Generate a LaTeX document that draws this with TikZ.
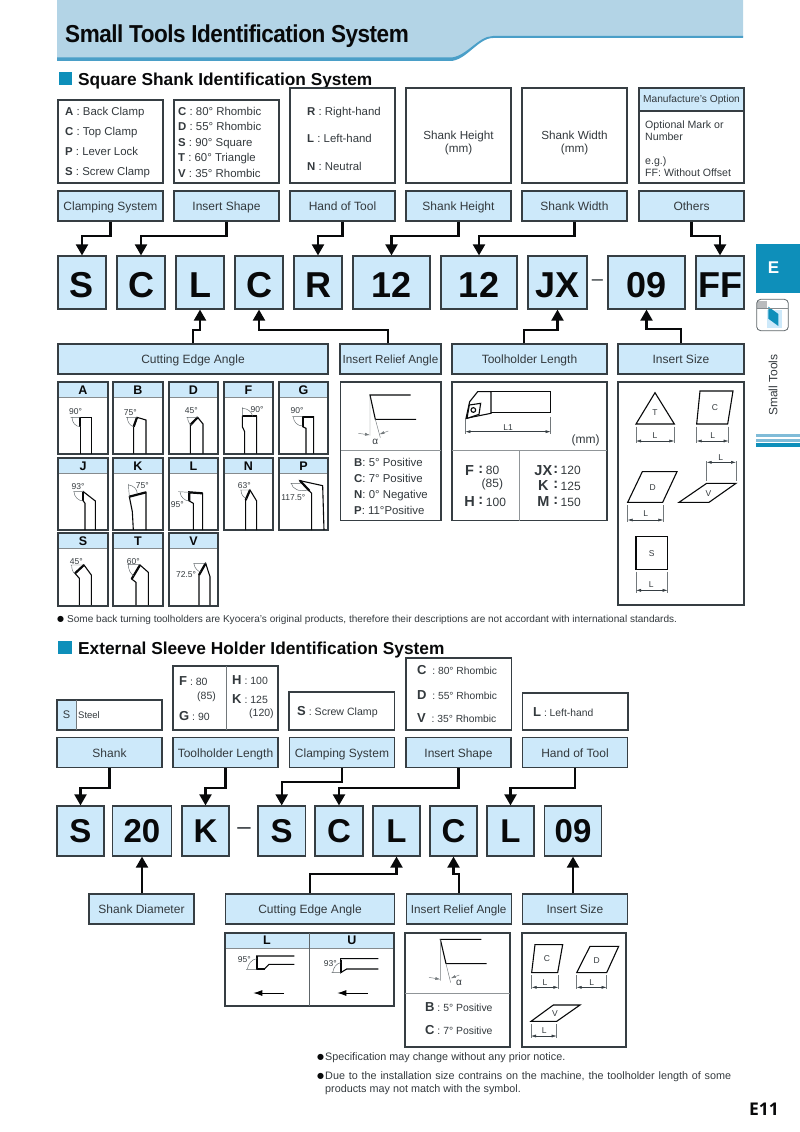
\documentclass[tikz,border=0pt]{standalone}
\usepackage{fontspec}
\setmainfont{Liberation Sans}
\newfontfamily\symfont{DejaVu Sans}
\newfontfamily\pagefont{Open Sans}
\newfontfamily\narrowfont[FakeStretch=0.92,LetterSpace=-2]{Liberation Sans}
\usetikzlibrary{arrows.meta}
\definecolor{headfill}{HTML}{B3D4E6}
\definecolor{headline}{HTML}{4A9FC8}
\definecolor{boxfill}{HTML}{CDE9FA}
\definecolor{tabblue}{HTML}{0E8FBA}
\definecolor{ink}{HTML}{363E43}
\definecolor{txt}{HTML}{33393D}
\newcommand{\fs}[1]{\fontsize{#1}{#1}\selectfont}
\tikzset{
  labelbox/.style={draw=ink, fill=boxfill, line width=1.2pt, inner sep=0, minimum height=30pt, text height=9pt, text depth=0pt, text=txt, font=\fs{12}},
  codebox/.style={draw=ink, fill=boxfill, line width=1.2pt, inner sep=0, minimum height=53pt, text height=29.6pt, text depth=0pt, text=black!85!ink, font=\bfseries\fs{36}},
  codeboxb/.style={draw=ink, fill=boxfill, line width=1.2pt, inner sep=0, minimum height=50pt, text height=23pt, text depth=0pt, text=black!85!ink, font=\bfseries\fs{33}},
  cellhead/.style={fill=boxfill, draw=ink!60, line width=.4pt, inner sep=0, minimum height=15pt, text height=9pt, text depth=0pt, text=black!85!ink, font=\bfseries\fs{12.5}},
  frame/.style={draw=ink, line width=1.2pt},
  val/.style={inner sep=0, anchor=base west, text=txt, font=\fs{11.4}},
  small/.style={inner sep=0, text=txt, font=\fs{8.5}},
  link/.style={draw=black!85!ink, line width=2.1pt, -{Triangle[width=12pt,length=11pt]}},
  tool/.style={draw=black!85!ink, line width=1.1pt},
  edge/.style={draw=black!85!ink, line width=2.2pt},
  ang/.style={draw=ink!80, line width=.45pt},
  dim/.style={draw=ink!70, line width=.45pt},
  dimarrow/.style={draw=ink, line width=.5pt, {Latex[length=5pt,width=3pt]}-{Latex[length=5pt,width=3pt]}},
  divider/.style={draw=ink!55, line width=.8pt}
}
\begin{document}
\begin{tikzpicture}[x=1pt,y=-1pt]
\useasboundingbox (0,0) rectangle (800,1132);
% page header
\fill[headfill] (57,0) -- (743,0) -- (743,37) -- (493,37) .. controls (478,37) and (466,59) .. (450,59) -- (57,59) -- cycle;
\fill[headline] (57,57.5) -- (450,57.5) .. controls (466,57.5) and (478,36) .. (493,36) -- (743,36) -- (743,38) -- (493,38) .. controls (478,38) and (466,61) .. (450,61) -- (57,61) -- cycle;
\node[inner sep=0, anchor=base west, text=black!85!ink, font=\narrowfont\bfseries\fs{24.5}] (title) at (65,43) {Small Tools Identification System};
\fill[tabblue] (59,72) rectangle (72,85);
\node[inner sep=0, anchor=base west, text=black!85!ink, font=\bfseries\fs{17.3}] (secA) at (78,85) {Square Shank Identification System};
% side tab
\fill[tabblue] (756,244) rectangle (800,293);
\node[inner sep=0, text=white, font=\bfseries\fs{17}] (tabE) at (773.5,268) {E};
\begin{scope}[shift={(750,240)},scale=1/3]
\fill[boxfill] (50,210) rectangle (95,265);
\fill[ink!35] (22,183) rectangle (52,205);
\fill[tabblue] (55,200) -- (85,222) -- (85,258) -- (55,236) -- cycle;
\draw[ink!80, line width=.8pt, rounded corners=4pt] (20,178) rectangle (115,272);
\draw[ink!60, line width=.5pt] (20,205) -- (115,205);
\end{scope}
\node[inner sep=0, rotate=90, text=txt, font=\fs{12}] (sideTxt) at (773,385) {Small Tools};
\fill[headline!70] (756,434) rectangle (800,437);
\fill[headline!70] (756,438.5) rectangle (800,441.5);
\fill[tabblue] (756,442.5) rectangle (800,446.5);
% top boxes
\draw[frame] (58,100) rectangle (163,183);
\node[val] (a1) at (65,115) {\textbf{A} : Back Clamp};
\node[val] (a2) at (65,135.5) {\textbf{C} : Top Clamp};
\node[val] (a3) at (65,155.5) {\textbf{P} : Lever Lock};
\node[val] (a4) at (65,175.5) {\textbf{S} : Screw Clamp};
\draw[frame] (174,100) rectangle (279,183);
\node[val] (b1) at (178,115) {\textbf{C} : 80° Rhombic};
\node[val] (b2) at (178,130.5) {\textbf{D} : 55° Rhombic};
\node[val] (b3) at (178,146) {\textbf{S} : 90° Square};
\node[val] (b4) at (178,161.5) {\textbf{T} : 60° Triangle};
\node[val] (b5) at (178,177) {\textbf{V} : 35° Rhombic};
\draw[frame] (290,88) rectangle (395,183);
\node[val] (c1) at (307,115) {\textbf{R} : Right-hand};
\node[val] (c2) at (307,142) {\textbf{L} : Left-hand};
\node[val] (c3) at (307,170) {\textbf{N} : Neutral};
\draw[frame] (406,88) rectangle (511,183);
\node[inner sep=0, text=txt, font=\fs{11.7}, align=center] (d1) at (458.5,143) {Shank Height\\[2pt](mm)};
\draw[frame] (522,88) rectangle (627,183);
\node[inner sep=0, text=txt, font=\fs{11.7}, align=center] (e1) at (574.5,143) {Shank Width\\[2pt](mm)};
\node[draw=ink, fill=boxfill, line width=1.2pt, inner sep=0, minimum width=105pt, minimum height=23pt, text=txt, font=\fs{10.2}] (opt) at (691.5,99.5) {Manufacture's Option};
\draw[frame] (639,88) rectangle (744,183);
\node[val, font=\fs{10.6}] (f1) at (645,128) {Optional Mark or};
\node[val, font=\fs{10.6}] (f2) at (645,140.5) {Number};
\node[val, font=\fs{10.6}] (f3) at (645,164) {e.g.)};
\node[val, font=\fs{10.6}] (f4) at (645,176.5) {FF: Without Offset};
% label row
\node[labelbox, minimum width=105pt] (clamp) at (110.5,206) {Clamping System};
\node[labelbox, minimum width=105pt] (shape) at (226.5,206) {Insert Shape};
\node[labelbox, minimum width=105pt] (hand) at (342.5,206) {Hand of Tool};
\node[labelbox, minimum width=105pt] (height) at (458.5,206) {Shank Height};
\node[labelbox, minimum width=105pt] (width) at (574.5,206) {Shank Width};
\node[labelbox, minimum width=105pt] (others) at (691.5,206) {Others};
% code row
\node[codebox, minimum width=48pt] (cS) at (82,282.5) {S};
\node[codebox, minimum width=48pt] (cC) at (141,282.5) {C};
\node[codebox, minimum width=48pt] (cL) at (200,282.5) {L};
\node[codebox, minimum width=48pt] (cCb) at (259,282.5) {C};
\node[codebox, minimum width=48pt] (cR) at (318,282.5) {R};
\node[codebox, minimum width=77pt] (cH) at (391.5,282.5) {12};
\node[codebox, minimum width=76pt] (cW) at (479,282.5) {12};
\node[codebox, minimum width=59pt] (cJ) at (557.5,282.5) {JX};
\node[inner sep=0, text=txt, font=\fs{20}] (cDash) at (597.5,283) {–};
\node[codebox, minimum width=77pt] (cSize) at (646.5,282.5) {09};
\node[codebox, minimum width=48pt] (cF) at (720,282.5) {FF};
\draw[link] (clamp.south) -- ++(0,14) -| (cS.north);
\draw[link] (shape.south) -- ++(0,14) -| (cC.north);
\draw[link] (hand.south) -- ++(0,14) -| (cR.north);
\draw[link] (height.south) -- ++(0,14) -| (cH.north);
\draw[link] (width.south) -- ++(0,14) -| (cW.north);
\draw[link] (others.south) -- ++(0,14) -| (cF.north);
% lower label row
\node[labelbox, minimum width=270pt] (cut) at (193,359) {Cutting Edge Angle};
\node[labelbox, minimum width=101pt, font=\fs{11.7}] (relief) at (390.5,359) {Insert Relief Angle};
\node[labelbox, minimum width=155pt] (length) at (529.5,359) {Toolholder Length};
\node[labelbox, minimum width=126pt] (size) at (681,359) {Insert Size};
\draw[link] (cut.north) -- ++(0,-13.5) -| (cL.south);
\draw[link] ([xshift=-2.5pt]relief.north) -- ++(0,-13.5) -| (cCb.south);
\draw[link] ([xshift=-5.5pt]length.north) -- ++(0,-13.5) -| (cJ.south);
\draw[link] (size.north) -- ++(0,-14) -| (cSize.south);
% cutting edge cells
\node[cellhead, minimum width=49.5pt] (gA) at (83,389.5) {A};
\node[cellhead, minimum width=49.5pt] (gB) at (138,389.5) {B};
\node[cellhead, minimum width=49.5pt] (gD) at (193.5,389.5) {D};
\node[cellhead, minimum width=49.5pt] (gF) at (248.5,389.5) {F};
\node[cellhead, minimum width=49.5pt] (gG) at (303.5,389.5) {G};
\node[cellhead, minimum width=49.5pt] (gJ) at (83,465.5) {J};
\node[cellhead, minimum width=49.5pt] (gK) at (138,465.5) {K};
\node[cellhead, minimum width=49.5pt] (gL) at (193.5,465.5) {L};
\node[cellhead, minimum width=49.5pt] (gN) at (248.5,465.5) {N};
\node[cellhead, minimum width=49.5pt] (gP) at (303.5,465.5) {P};
\node[cellhead, minimum width=49.5pt] (gS) at (83,540.5) {S};
\node[cellhead, minimum width=49.5pt] (gT) at (138,540.5) {T};
\node[cellhead, minimum width=49.5pt] (gV) at (193.5,540.5) {V};
\draw[frame] (58,382) rectangle (108,454);
\draw[frame] (113,382) rectangle (163,454);
\draw[frame] (169,382) rectangle (218,454);
\draw[frame] (224,382) rectangle (273,454);
\draw[frame] (279,382) rectangle (328,454);
\draw[frame] (58,458) rectangle (108,530);
\draw[frame] (113,458) rectangle (163,530);
\draw[frame] (169,458) rectangle (218,530);
\draw[frame] (224,458) rectangle (273,530);
\draw[frame] (279,458) rectangle (328,530);
\draw[frame] (58,533) rectangle (108,606);
\draw[frame] (113,533) rectangle (163,606);
\draw[frame] (169,533) rectangle (218,606);
\begin{scope}[shift={(50,375)},scale=1/3]
% row A to G
\draw[tool] (91,236) -- (91,127) -- (125,127) -- (125,236);
\draw[edge] (91,127) -- (91,155);
\draw[ang] (62,127) -- (91,127) (66,127) .. controls (66,142) and (76,155) .. (91,155);
\node[small] (dA) at (77,110) {90°};
\draw[tool] (251,236) -- (251,155) -- (261,127) -- (288,135) -- (288,236);
\draw[edge] (251,155) -- (261,127);
\draw[ang] (228,127) -- (261,127) (232,127) .. controls (232,142) and (240,152) .. (251,155);
\node[small] (dB) at (241,113) {75°};
\draw[tool] (421,236) -- (421,150) -- (443,127) -- (459,147) -- (459,236);
\draw[edge] (421,150) -- (443,127);
\draw[ang] (410,127) -- (443,127) (413,127) .. controls (413,138) and (418,148) .. (425,150);
\node[small] (dD) at (424,107) {45°};
\draw[tool] (584,236) -- (584,170) -- (577,155) -- (577,124) -- (620,124) -- (620,236);
\draw[edge] (577,124) -- (620,124);
\draw[ang] (577,124) -- (577,97) (577,100) .. controls (592,100) and (606,110) .. (608,124);
\node[small] (dF) at (621,105) {90°};
\draw[tool] (768,236) -- (768,160) -- (758,155) -- (758,125) -- (791,125) -- (791,236);
\draw[edge] (758,155) -- (758,125) -- (791,125);
\draw[ang] (727,125) -- (758,125) (730,125) .. controls (730,140) and (742,153) .. (758,153);
\node[small] (dG) at (741,108) {90°};
% row J to P
\draw[tool] (105,465) -- (105,385) -- (100,378) -- (100,350) -- (136,378) -- (136,465);
\draw[edge] (100,378) -- (100,350);
\draw[ang] (70,350) -- (100,350) (72,350) .. controls (72,365) and (85,378) .. (100,378);
\node[small] (dJ) at (84,335) {93°};
\draw[tool] (250,465) -- (247,410) -- (238,365) -- (288,352) -- (288,465);
\draw[edge] (238,365) -- (288,352);
\draw[ang] (238,365) -- (235,327) (237,330) .. controls (250,332) and (262,342) .. (262,357);
\node[small] (dK) at (277,331) {75°};
\draw[tool] (430,465) -- (430,385) -- (418,378) -- (418,352) -- (458,355) -- (458,465);
\draw[edge] (418,378) -- (418,352) -- (458,355);
\draw[ang] (385,350) -- (418,352) (390,352) .. controls (392,366) and (404,378) .. (418,378);
\node[small] (dL) at (382,388) {95°};
\draw[tool] (587,465) -- (587,375) -- (600,345) -- (620,378) -- (620,465);
\draw[edge] (587,375) -- (600,345);
\draw[ang] (570,345) -- (600,345) (573,345) .. controls (573,358) and (580,368) .. (590,370);
\node[small] (dN) at (583,331) {63°};
\draw[tool] (785,465) -- (785,355) -- (750,317) -- (818,332) -- (822,465);
\draw[edge] (750,317) -- (778,347);
\draw[ang] (722,325) -- (752,325) (724,325) .. controls (726,342) and (750,352) .. (772,345);
\node[small] (dP) at (730,369) {117.5°};
% row S to V
\draw[tool] (88,690) -- (88,610) -- (75,595) -- (102,570) -- (124,600) -- (124,690);
\draw[edge] (75,595) -- (102,570);
\draw[ang] (62,570) -- (102,570) (65,570) .. controls (65,582) and (68,592) .. (75,596);
\node[small] (dS) at (79,559) {45°};
\draw[tool] (258,690) -- (258,622) -- (245,612) -- (270,570) -- (295,592) -- (295,690);
\draw[edge] (245,612) -- (270,570);
\draw[ang] (232,568) -- (270,568) (235,568) .. controls (235,585) and (242,598) .. (252,602);
\node[small] (dT) at (250,560) {60°};
\draw[tool] (447,690) -- (447,600) -- (467,565) -- (480,605) -- (480,690);
\draw[edge] (447,600) -- (467,565);
\draw[ang] (430,565) -- (467,565) (432,567) .. controls (434,580) and (444,590) .. (452,590);
\node[small] (dV) at (408,598) {72.5°};
\end{scope}
% relief box
\draw[frame] (340.5,382) rectangle (441,520.5);
\draw[divider] (340.5,450) -- (441,450);
\begin{scope}[shift={(335,375)},scale=1/3]
\draw[tool] (227,60) -- (105,60) -- (121,133) -- (243,133);
\draw[dim] (105,60) -- (105,182) (121,133) -- (136,188);
\draw[dim, -{Latex[length=5pt,width=3pt]}] (70,175) -- (105,180);
\draw[dim, -{Latex[length=5pt,width=3pt]}] (160,168) -- (133,178);
\node[small, font=\fs{10}] (alphaA) at (121,201) {α};
\end{scope}
\node[val] (r1) at (354,466) {\textbf{B}: 5° Positive};
\node[val] (r2) at (354,482) {\textbf{C}: 7° Positive};
\node[val] (r3) at (354,498) {\textbf{N}: 0° Negative};
\node[val] (r4) at (354,514) {\textbf{P}: 11°Positive};
% toolholder box
\draw[frame] (452,382) rectangle (607,520.5);
\draw[divider] (452,450) -- (607,450) (519,450) -- (519,520.5);
\begin{scope}[shift={(335,375)},scale=1/3]
\draw[tool] (468,50) -- (647,50) -- (647,112) -- (468,112);
\draw[tool] (468,50) -- (428,50) -- (404,80) -- (393,130) -- (468,115) -- cycle;
\draw[tool, fill=white] (403,90) -- (437,85) -- (432,118) -- (396,130) -- cycle;
\draw[tool] (415,105) circle (7);
\draw[dim] (391,132) -- (391,178) (647,125) -- (647,178);
\draw[dimarrow] (391,170) -- (647,170);
\node[small, inner sep=.5pt] (dimL) at (519,157) {L1};
\node[inner sep=0, text=txt, font=\fs{12}] (mm) at (752,197) {(mm)};
\node[inner sep=0, text=txt, font=\bfseries\fs{14.5}] (lF) at (404,287) {F};
\node[inner sep=0, text=txt, font=\bfseries\fs{14.5}] (lFc) at (437,284) {:};
\node[inner sep=0, text=txt, font=\fs{12}] (lFv) at (473,287) {80};
\node[inner sep=0, text=txt, font=\fs{12}] (lFw) at (472,327) {(85)};
\node[inner sep=0, text=txt, font=\bfseries\fs{14.5}] (lH) at (404,381) {H};
\node[inner sep=0, text=txt, font=\bfseries\fs{14.5}] (lHc) at (437,378) {:};
\node[inner sep=0, text=txt, font=\fs{12}] (lHv) at (483,381) {100};
\node[inner sep=0, text=txt, font=\bfseries\fs{14.5}] (lJ) at (625,287) {JX};
\node[inner sep=0, text=txt, font=\bfseries\fs{14.5}] (lJc) at (662,284) {:};
\node[inner sep=0, text=txt, font=\fs{12}] (lJv) at (707,287) {120};
\node[inner sep=0, text=txt, font=\bfseries\fs{14.5}] (lK) at (625,333) {K};
\node[inner sep=0, text=txt, font=\bfseries\fs{14.5}] (lKc) at (662,330) {:};
\node[inner sep=0, text=txt, font=\fs{12}] (lKv) at (707,333) {125};
\node[inner sep=0, text=txt, font=\bfseries\fs{14.5}] (lM) at (625,381) {M};
\node[inner sep=0, text=txt, font=\bfseries\fs{14.5}] (lMc) at (662,378) {:};
\node[inner sep=0, text=txt, font=\fs{12}] (lMv) at (707,381) {150};
\end{scope}
% insert size box
\draw[frame] (618,382) rectangle (744,605);
\begin{scope}[shift={(610,240)},scale=1/3]
\draw[tool] (78,552) -- (135,458) -- (193,552) -- cycle;
\node[small] (iT) at (135,518) {T};
\draw[dim] (78,560) -- (78,608) (193,560) -- (193,608);
\draw[dimarrow] (78,603) -- (193,603);
\node[small] (iTL) at (135,588) {L};
\draw[tool] (260,552) -- (270,453) -- (369,453) -- (353,552) -- cycle;
\node[small] (iC) at (315,503) {C};
\draw[dim] (260,560) -- (260,608) (356,560) -- (356,608);
\draw[dimarrow] (260,603) -- (356,603);
\node[small] (iCL) at (308,588) {L};
\draw[tool] (53,787) -- (97,695) -- (201,695) -- (158,787) -- cycle;
\node[small] (iD) at (128,742) {D};
\draw[dim] (53,795) -- (53,845) (160,795) -- (160,845);
\draw[dimarrow] (53,840) -- (160,840);
\node[small] (iDL) at (107,822) {L};
\draw[tool] (207,787) -- (290,730) -- (378,730) -- (297,787) -- cycle;
\node[small] (iV) at (295,760) {V};
\draw[dim] (290,722) -- (290,662) (378,722) -- (378,662);
\draw[dimarrow] (290,667) -- (378,667);
\node[small] (iVL) at (332,652) {L};
\draw[tool] (78,889) rectangle (173,988);
\node[small] (iS) at (125,940) {S};
\draw[dim] (78,995) -- (78,1058) (173,995) -- (173,1058);
\draw[dimarrow] (78,1051) -- (173,1051);
\node[small] (iSL) at (124,1033) {L};
\end{scope}
% note
\node[inner sep=0, anchor=base west, text=black!85!ink, font=\symfont\fs{8}] (noteDot) at (57,621) {●};
\node[inner sep=0, anchor=base west, text=txt, font=\fs{10.05}] (note) at (67,622) {Some back turning toolholders are Kyocera's original products, therefore their descriptions are not accordant with international standards.};
% second system
\fill[tabblue] (58,641) rectangle (71.5,654);
\node[inner sep=0, anchor=base west, text=black!85!ink, font=\bfseries\fs{17.3}] (secB) at (78,654) {External Sleeve Holder Identification System};
\fill[boxfill] (57,700) rectangle (76,730);
\draw[frame] (57,700) rectangle (162,730);
\draw[ink!70, line width=.6pt] (76,700) -- (76,730);
\node[inner sep=0, text=txt, font=\fs{11}] (sS) at (66.5,715) {S};
\node[val, font=\fs{9.5}] (sSteel) at (78,718.5) {Steel};
\draw[frame] (173,666) rectangle (278,730);
\draw[ink!70, line width=.6pt] (226,666) -- (226,730);
\node[val, font=\fs{10.5}] (t1) at (179,685) {\textbf{\fs{13}F} : 80};
\node[val, font=\fs{10.5}] (t2) at (197,699) {(85)};
\node[val, font=\fs{10.5}] (t3) at (179,720) {\textbf{\fs{13}G} : 90};
\node[val, font=\fs{10.5}] (t4) at (232,684) {\textbf{\fs{13}H} : 100};
\node[val, font=\fs{10.5}] (t5) at (232,703) {\textbf{\fs{13}K} : 125};
\node[val, font=\fs{10.5}] (t6) at (249,716) {(120)};
\draw[frame] (289,692) rectangle (394.5,730);
\node[val, font=\fs{10.6}] (u1) at (297,715) {\textbf{\fs{13}S} : Screw Clamp};
\draw[frame] (406,658) rectangle (511.5,730);
\node[val, font=\fs{10.3}] (v1) at (417,674) {\textbf{\fs{13}C} \ : 80° Rhombic};
\node[val, font=\fs{10.3}] (v2) at (417,699) {\textbf{\fs{13}D} \ : 55° Rhombic};
\node[val, font=\fs{10.3}] (v3) at (417,722) {\textbf{\fs{13}V} \ : 35° Rhombic};
\draw[frame] (522.5,693) rectangle (628,730);
\node[val, font=\fs{10.3}] (w1) at (533,716) {\textbf{\fs{13}L} : Left-hand};
\node[labelbox, minimum width=105pt] (shank) at (109.5,752.5) {Shank};
\node[labelbox, minimum width=105pt] (holder) at (225.5,752.5) {Toolholder Length};
\node[labelbox, minimum width=105pt] (clampB) at (342,752.5) {Clamping System};
\node[labelbox, minimum width=105pt] (shapeB) at (458.5,752.5) {Insert Shape};
\node[labelbox, minimum width=105pt] (handB) at (575,752.5) {Hand of Tool};
\node[codeboxb, minimum width=47pt] (nS) at (80.5,831) {S};
\node[codeboxb, minimum width=59.5pt] (n20) at (142,831) {20};
\node[codeboxb, minimum width=47pt] (nK) at (205.5,831) {K};
\node[inner sep=0, text=txt, font=\fs{24}] (nDash) at (244,831) {–};
\node[codeboxb, minimum width=47.5pt] (nSb) at (281.7,831) {S};
\node[codeboxb, minimum width=48pt] (nC) at (339,831) {C};
\node[codeboxb, minimum width=47pt] (nL) at (396.5,831) {L};
\node[codeboxb, minimum width=47pt] (nCb) at (453.5,831) {C};
\node[codeboxb, minimum width=47pt] (nLb) at (510.5,831) {L};
\node[codeboxb, minimum width=56.5pt] (n09) at (573,831) {09};
\draw[link] (shank.south) -- ++(0,19.5) -| (nS.north);
\draw[link] (holder.south) -- ++(0,19.5) -| (nK.north);
\draw[link] (clampB.south) -- ++(0,13.5) -| (nSb.north);
\draw[link] (shapeB.south) -- ++(0,19.5) -| (nC.north);
\draw[link] (handB.south) -- ++(0,19.5) -| (nLb.north);
\node[labelbox, minimum width=105pt] (diam) at (141.5,909) {Shank Diameter};
\node[labelbox, minimum width=168.5pt] (cutB) at (310,909) {Cutting Edge Angle};
\node[labelbox, minimum width=105pt, font=\fs{11.7}] (reliefB) at (458.7,909) {Insert Relief Angle};
\node[labelbox, minimum width=105pt] (sizeB) at (575,909) {Insert Size};
\draw[link] (diam.north -| n20.south) -- (n20.south);
\draw[link] (cutB.north) -- ++(0,-19) -| (nL.south);
\draw[link] (reliefB.north) -- ++(0,-19) -| (nCb.south);
\draw[link] (sizeB.north -| n09.south) -- (n09.south);
% bottom boxes
\fill[boxfill] (225,933) rectangle (394,948);
\draw[divider, draw=ink!60, line width=.4pt] (225,948) -- (394,948);
\draw[frame] (225,933) rectangle (394,1006);
\draw[ink!80, line width=.6pt] (309,933) -- (309,1006);
\node[inner sep=0, text=black!85!ink, font=\bfseries\fs{12.5}] (hL) at (267,940.5) {L};
\node[inner sep=0, text=black!85!ink, font=\bfseries\fs{12.5}] (hU) at (352,940.5) {U};
\draw[frame] (405,933) rectangle (510,1047);
\draw[divider] (405,993) -- (510,993);
\draw[frame] (522,933) rectangle (626,1047);
\begin{scope}[shift={(200,920)},scale=1/3]
\draw[tool] (283,108) -- (170,108) -- (170,148) -- (192,148) -- (207,133) -- (283,133);
\draw[edge] (170,108) -- (170,148) -- (195,148);
\draw[ang] (170,148) -- (138,148) (142,148) .. controls (144,132) and (155,118) .. (170,116);
\node[small] (aL) at (133,120) {95°};
\draw[line width=.9pt, -{Latex[length=9pt,width=6pt]}] (252,219) -- (160,219);
\draw[tool] (535,116) -- (422,116) -- (422,158) -- (440,147) -- (535,147);
\draw[edge] (422,120) -- (422,158);
\draw[ang] (422,158) -- (395,158) (398,158) .. controls (400,142) and (410,130) .. (422,128);
\node[small] (aU) at (391,131) {93°};
\draw[line width=.9pt, -{Latex[length=9pt,width=6pt]}] (503,219) -- (412,219);
\draw[tool] (844,58) -- (721,58) -- (738,131) -- (860,131);
\draw[dim] (721,58) -- (721,182) (738,131) -- (752,188);
\draw[dim, -{Latex[length=5pt,width=3pt]}] (687,172) -- (721,178);
\draw[dim, -{Latex[length=5pt,width=3pt]}] (778,165) -- (752,175);
\node[small, font=\fs{10}] (alphaB) at (777,190) {α};
\node[val, font=\fs{10.4}] (p1) at (675,273) {\textbf{\fs{13}B} : 5° Positive};
\node[val, font=\fs{10.4}] (p2) at (675,343) {\textbf{\fs{13}C} : 7° Positive};
\draw[tool] (995,158) -- (1005,74) -- (1088,74) -- (1073,158) -- cycle;
\node[small] (jC) at (1041,116) {C};
\draw[dim] (995,165) -- (995,208) (1075,165) -- (1075,208);
\draw[dimarrow] (995,202) -- (1075,202);
\node[small] (jCL) at (1035,187) {L};
\draw[tool] (1130,158) -- (1170,79) -- (1256,79) -- (1220,158) -- cycle;
\node[small] (jD) at (1190,121) {D};
\draw[dim] (1130,165) -- (1130,208) (1220,165) -- (1220,208);
\draw[dimarrow] (1130,202) -- (1220,202);
\node[small] (jDL) at (1175,187) {L};
\draw[tool] (993,304) -- (1060,255) -- (1140,255) -- (1070,304) -- cycle;
\node[small] (jV) at (1065,281) {V};
\draw[dim] (993,312) -- (993,355) (1070,312) -- (1070,355);
\draw[dimarrow] (993,348) -- (1070,348);
\node[small] (jVL) at (1033,333) {L};
\end{scope}
% closing notes
\node[inner sep=0, anchor=base west, text=black!85!ink, font=\symfont\fs{8}] (dotA) at (317,1059.5) {●};
\node[inner sep=0, anchor=base west, text=txt, font=\fs{10.8}] (noteA) at (325,1060) {Specification may change without any prior notice.};
\node[inner sep=0, anchor=base west, text=black!85!ink, font=\symfont\fs{8}] (dotB) at (317,1078.5) {●};
\node[inner sep=0, anchor=base west, text=txt, font=\fs{10.8}] (noteB) at (325,1079) {\makebox[406pt][s]{Due to the installation size contrains on the machine, the toolholder length of some}};
\node[inner sep=0, anchor=base west, text=txt, font=\fs{10.8}] (noteC) at (325,1092) {products may not match with the symbol.};
\node[inner sep=0, anchor=base east, text=black!85!ink, font=\pagefont\bfseries\fs{17.5}] (pageNo) at (779,1115) {E11};
\end{tikzpicture}
\end{document}
